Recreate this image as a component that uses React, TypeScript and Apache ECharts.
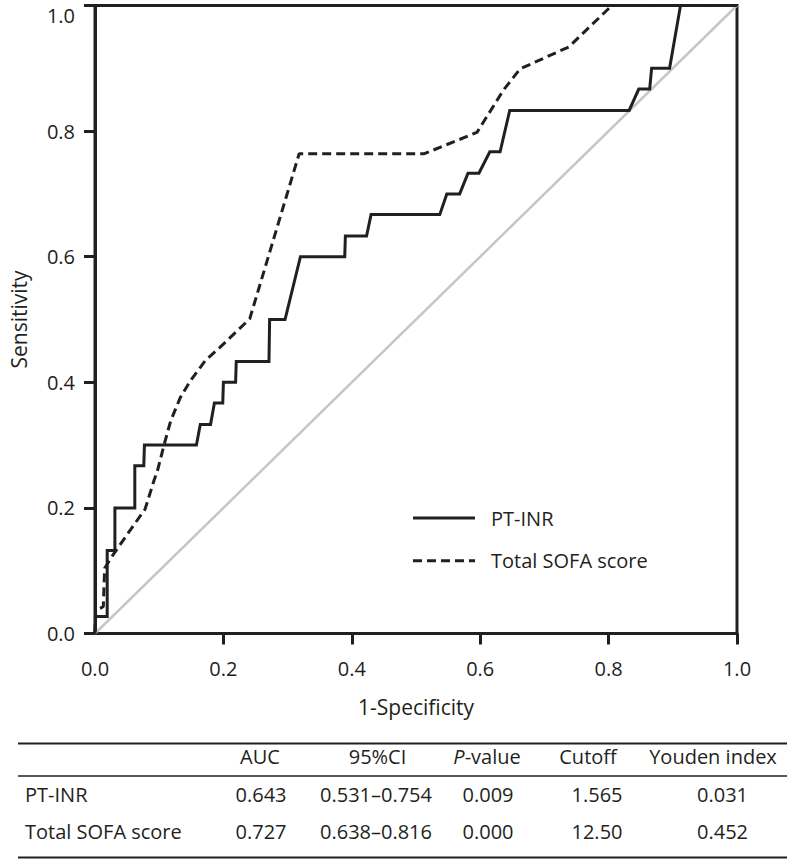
import React, { useEffect, useRef } from 'react';
import * as echarts from 'echarts';

// ROC curve for PT-INR (1-Specificity, Sensitivity)
const ptInrX = [0, 0.001, 0.019, 0.019, 0.031, 0.031, 0.062, 0.062, 0.076, 0.077, 0.158, 0.164, 0.180, 0.186, 0.199, 0.200, 0.219, 0.220, 0.271, 0.272, 0.296, 0.320, 0.389, 0.390, 0.423, 0.430, 0.537, 0.548, 0.568, 0.581, 0.598, 0.615, 0.631, 0.646, 0.832, 0.847, 0.864, 0.867, 0.895, 0.912, 1.0];
const ptInrY = [0, 0.027, 0.027, 0.132, 0.132, 0.2, 0.2, 0.267, 0.267, 0.3, 0.3, 0.333, 0.333, 0.367, 0.367, 0.4, 0.4, 0.433, 0.433, 0.5, 0.5, 0.6, 0.6, 0.633, 0.633, 0.667, 0.667, 0.7, 0.7, 0.733, 0.733, 0.767, 0.767, 0.833, 0.833, 0.867, 0.867, 0.9, 0.9, 1.0, 1.0];

// ROC curve for Total SOFA score
const sofaX = [0, 0.001, 0.008, 0.013, 0.015, 0.026, 0.051, 0.078, 0.092, 0.097, 0.108, 0.118, 0.133, 0.149, 0.172, 0.195, 0.241, 0.318, 0.513, 0.595, 0.636, 0.662, 0.738, 0.805, 1.0];
const sofaY = [0, 0.037, 0.040, 0.043, 0.104, 0.122, 0.159, 0.198, 0.244, 0.258, 0.302, 0.339, 0.376, 0.403, 0.435, 0.456, 0.501, 0.764, 0.764, 0.798, 0.865, 0.899, 0.934, 1.0, 1.0];

// Reference line
const diagX = [0, 1];
const diagY = [0, 1];

const axisTickValues = [0, 0.2, 0.4, 0.6, 0.8, 1.0];
const xTickMarks = [0.2, 0.4, 0.6, 0.8, 1.0];

const seriesNames = ['PT-INR', 'Total SOFA score'];

// Table
const tableHeaders = ['AUC', '95%CI', 'P-value', 'Cutoff', 'Youden index'];
const rowLabels = ['PT-INR', 'Total SOFA score'];
const aucValues = ['0.643', '0.727'];
const ciValues = ['0.531–0.754', '0.638–0.816'];
const pValues = ['0.009', '0.000'];
const cutoffValues = ['1.565', '12.50'];
const youdenValues = ['0.031', '0.452'];

const FONT = "'Open Sans', sans-serif";
const INK = '#231f20';

function zip(xs: number[], ys: number[]) {
  return xs.map((x, i) => [x, ys[i]]);
}

export default function App() {
  const ref = useRef<HTMLDivElement>(null);

  useEffect(() => {
    document.body.style.margin = '0';
    if (!ref.current) return;
    const chart = echarts.init(ref.current, null, { renderer: 'svg' });

    const headerX = [260, 377.5, 487, 588, 713];
    const valueX = [261, 376, 488, 597, 722.5];
    const headerY = 756;
    const rowY = [794, 831.5];
    const columns = [aucValues, ciValues, pValues, cutoffValues, youdenValues];

    const textBase = { fontFamily: FONT, fontSize: 20, fill: INK };
    const graphics: any[] = [];
    // rules
    [[743.5, 2], [776, 1.5], [857.5, 2]].forEach(([y, w]) => {
      graphics.push({
        type: 'line',
        shape: { x1: 18, y1: y, x2: 787, y2: y },
        style: { stroke: INK, lineWidth: w },
      });
    });
    tableHeaders.forEach((h, i) => {
      const isP = h === 'P-value';
      graphics.push({
        type: 'text',
        x: headerX[i],
        y: headerY,
        style: {
          ...textBase,
          text: isP ? '{i|P}-value' : h,
          align: 'center',
          verticalAlign: 'middle',
          rich: isP ? { i: { fontStyle: 'italic', fontFamily: FONT, fontSize: 20, fill: INK } } : undefined,
        },
      });
    });
    rowLabels.forEach((lab, r) => {
      graphics.push({
        type: 'text',
        x: 25,
        y: rowY[r],
        style: { ...textBase, text: lab, align: 'left', verticalAlign: 'middle' },
      });
      columns.forEach((col, c) => {
        graphics.push({
          type: 'text',
          x: valueX[c],
          y: rowY[r],
          style: { ...textBase, text: col[r], align: 'center', verticalAlign: 'middle' },
        });
      });
    });

    const axisCommon = {
      type: 'value' as const,
      min: 0,
      max: 1,
      interval: 0.2,
      nameLocation: 'middle' as const,
      nameTextStyle: { fontFamily: FONT, fontSize: 21, color: INK },
      axisLine: { show: true, lineStyle: { color: INK, width: 3 } },
      splitLine: { show: false },
      axisLabel: {
        fontFamily: FONT,
        fontSize: 20,
        color: INK,
        formatter: (v: number) => v.toFixed(1),
        customValues: axisTickValues,
      },
    };

    chart.setOption({
      animation: false,
      backgroundColor: '#ffffff',
      grid: {
        left: 86.7,
        right: 51,
        top: 5.5,
        bottom: 225.5,
        show: true,
        borderColor: INK,
        borderWidth: 3,
      },
      legend: {
        orient: 'vertical',
        left: 411.5,
        top: 508,
        padding: 0,
        itemWidth: 62,
        itemHeight: 14,
        itemGap: 22.7,
        data: seriesNames,
        itemStyle: { opacity: 0 },
        lineStyle: { width: 3, color: INK },
        textStyle: { fontFamily: FONT, fontSize: 20, color: INK, padding: [4, 0, 0, 11] },
      },
      xAxis: {
        ...axisCommon,
        name: '1-Specificity',
        nameGap: 62.5,
        axisTick: { show: true, inside: false, length: 11, lineStyle: { color: INK, width: 3 }, customValues: xTickMarks },
        axisLabel: { ...axisCommon.axisLabel, margin: 25 },
      },
      yAxis: {
        ...axisCommon,
        name: 'Sensitivity',
        nameGap: 66,
        axisTick: { show: true, inside: false, length: 11, lineStyle: { color: INK, width: 3 }, customValues: axisTickValues },
        axisLabel: { ...axisCommon.axisLabel, margin: 20, verticalAlignMaxLabel: 'top' },
      },
      series: [
        {
          name: 'Reference',
          type: 'line',
          data: zip(diagX, diagY),
          symbol: 'none',
          silent: true,
          lineStyle: { color: '#c6c6c6', width: 2.5 },
          z: 1,
        },
        {
          name: seriesNames[0],
          type: 'line',
          data: zip(ptInrX, ptInrY),
          symbol: 'none',
          lineStyle: { color: INK, width: 3, type: 'solid', join: 'miter' },
          itemStyle: { color: INK },
          z: 3,
        },
        {
          name: seriesNames[1],
          type: 'line',
          data: zip(sofaX, sofaY),
          symbol: 'none',
          lineStyle: { color: INK, width: 3, type: [9, 5] },
          itemStyle: { color: INK },
          z: 3,
        },
      ],
      graphic: graphics,
    });

    return () => chart.dispose();
  }, []);

  return <div ref={ref} style={{ width: 788, height: 859 }} />;
}
